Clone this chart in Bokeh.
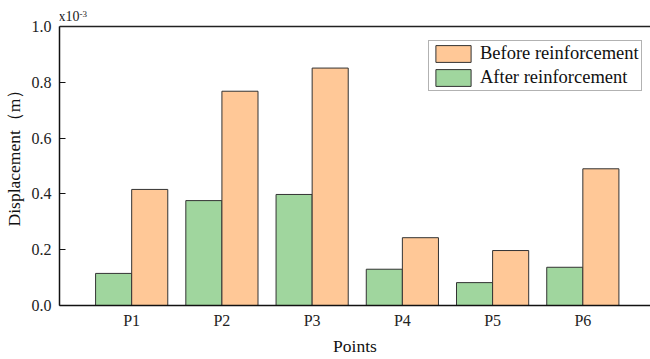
from bokeh.plotting import figure
from bokeh.models import ColumnDataSource, Legend, LegendItem, Label, FixedTicker, Range1d, Span
from bokeh.embed import file_html
from bokeh.resources import INLINE

points = ["P1", "P2", "P3", "P4", "P5", "P6"]
before = [0.416, 0.768, 0.851, 0.243, 0.197, 0.490]   # x10^-3 m
after = [0.115, 0.376, 0.398, 0.130, 0.082, 0.137]    # x10^-3 m
y_ticks = [0.0, 0.2, 0.4, 0.6, 0.8, 1.0]

xs = list(range(1, len(points) + 1))
src = ColumnDataSource(dict(
    x=xs,
    xa=[x - 0.2 for x in xs],
    xb=[x + 0.2 for x in xs],
    before=before,
    after=after,
))

FONT = "Liberation Serif"
ORANGE = "#FFC897"
GREEN = "#A0D69E"
Y_TOP = 1.0
Y_EXTRA = 25 / 279.0

p = figure(width=650, height=359, title=None, output_backend="svg", toolbar_location=None,
           x_range=Range1d(0.2, 6.75), y_range=Range1d(0, Y_TOP + Y_EXTRA),
           min_border_left=59, min_border_right=0, min_border_top=1, min_border_bottom=54)
p.background_fill_color = "white"
p.border_fill_color = "white"
p.grid.visible = False
p.outline_line_color = None

r_after = p.vbar(x="xa", top="after", width=0.4, source=src,
                 fill_color=GREEN, line_color="#333333", line_width=1)
r_before = p.vbar(x="xb", top="before", width=0.4, source=src,
                  fill_color=ORANGE, line_color="#333333", line_width=1)

# top frame line
p.add_layout(Span(location=Y_TOP, dimension="width", line_color="#222222", line_width=1.3))

# axes
p.xaxis.ticker = FixedTicker(ticks=xs)
p.xaxis.major_label_overrides = {x: lab for x, lab in zip(xs, points)}
p.xaxis.major_tick_in = 0
p.xaxis.major_tick_out = 0
p.xaxis.minor_tick_line_color = None
p.xaxis.axis_label = "Points"
p.yaxis.ticker = FixedTicker(ticks=y_ticks)
p.yaxis.major_label_overrides = {t: f"{t:.1f}" for t in y_ticks}
p.yaxis.major_tick_in = 6
p.yaxis.major_tick_out = 0
p.yaxis.minor_tick_line_color = None
p.yaxis.bounds = (0, Y_TOP)
p.yaxis.axis_label = "Displacement（m）"
for ax in (p.xaxis[0], p.yaxis[0]):
    ax.axis_line_color = "#111111"
    ax.axis_line_width = 1.5
    ax.major_tick_line_color = "#111111"
    ax.major_tick_line_width = 1.2
    ax.major_label_text_font = FONT
    ax.major_label_text_font_size = "16px"
    ax.major_label_text_color = "#222222"
    ax.axis_label_text_font = FONT
    ax.axis_label_text_font_size = "17.5px"
    ax.axis_label_text_font_style = "normal"
    ax.axis_label_text_color = "#111111"
p.xaxis.major_label_standoff = 6
p.xaxis.axis_label_standoff = 4
p.yaxis.major_label_standoff = 8
p.yaxis.axis_label_standoff = 5

# multiplier label
p.add_layout(Label(x=0.2, y=Y_TOP, text="x10", x_offset=-1, y_offset=3,
                   text_font=FONT, text_font_size="14px", text_color="#222222",
                   text_baseline="bottom", text_align="left"))
p.add_layout(Label(x=0.2, y=Y_TOP, text="-3", x_offset=20, y_offset=10,
                   text_font=FONT, text_font_size="9px", text_color="#222222",
                   text_baseline="bottom", text_align="left"))

legend = Legend(items=[LegendItem(label="Before reinforcement", renderers=[r_before]),
                       LegendItem(label="After reinforcement", renderers=[r_after])],
                location=(369, 214))
legend.label_text_font = FONT
legend.label_text_font_size = "18.5px"
legend.label_text_color = "#111111"
legend.glyph_width = 44
legend.glyph_height = 21
legend.spacing = 3
legend.padding = 2
legend.margin = 0
legend.label_standoff = 5
legend.label_height = 21
legend.border_line_color = "#666666"
legend.border_line_width = 1
legend.background_fill_alpha = 1.0
p.add_layout(legend)

open("out.html", "w").write(file_html(p, INLINE))
